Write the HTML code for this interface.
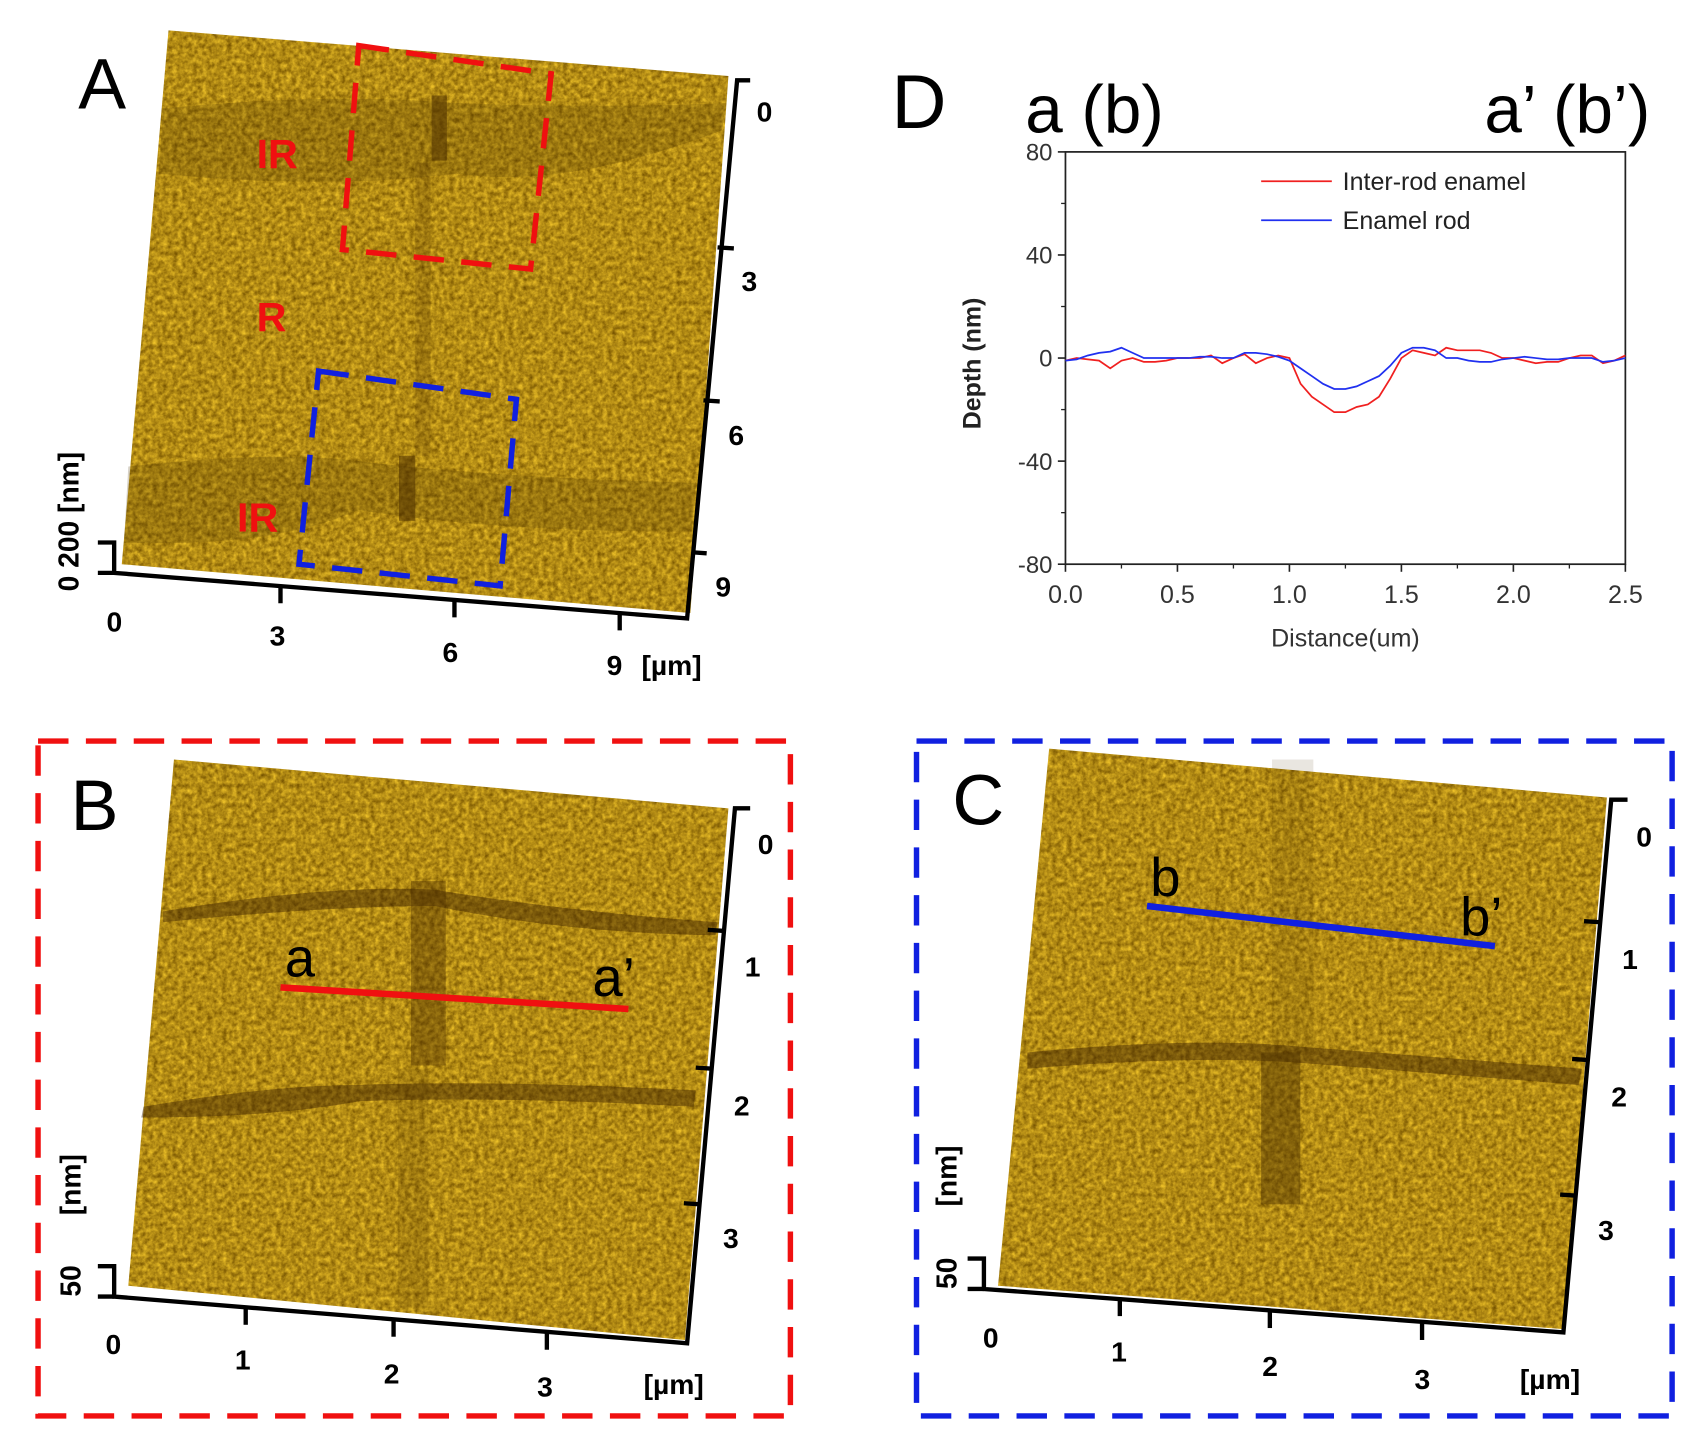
<!DOCTYPE html>
<html><head><meta charset="utf-8"><style>
html,body{margin:0;padding:0;background:#fff;}
svg{display:block;font-family:"Liberation Sans",Arial,sans-serif;}
</style></head><body>
<svg width="1696" height="1443" viewBox="0 0 1696 1443">
<defs>
<filter id="grain" x="0" y="0" width="100%" height="100%" color-interpolation-filters="sRGB">
<feTurbulence type="fractalNoise" baseFrequency="0.22" numOctaves="3" seed="4" result="n"/>
<feColorMatrix in="n" type="matrix" values="0.6 0 0 0 0.40  0.55 0 0 0 0.27  0.2 0 0 0 -0.02  0 0 0 0 1" result="c"/>
<feComposite in="c" in2="SourceGraphic" operator="in"/>
</filter>
</defs>
<g transform="scale(1.0872,1.085)">
<!-- Panel A -->
<g>
<polygon points="155,28 670,70 635,565 112,520" fill="#b8901c" filter="url(#grain)"/>
<path d="M150,100 Q300,85 420,95 Q550,100 668,95 L664,120 Q520,175 420,160 Q300,175 146,160Z" fill="#4a3000" opacity="0.22"/>
<path d="M118,430 Q250,415 330,425 Q450,440 640,445 L636,490 Q450,490 330,470 Q250,505 114,500Z" fill="#4a3000" opacity="0.22"/>
<rect x="397" y="88" width="14" height="60" fill="#4a2e00" opacity="0.55"/>
<rect x="382" y="150" width="14" height="270" fill="#4a2e00" opacity="0.2"/>
<rect x="367" y="420" width="15" height="60" fill="#4a2e00" opacity="0.55"/>
<text x="72" y="100" font-size="66" fill="#000">A</text>
<text x="236" y="155" font-size="38" font-weight="bold" fill="#f01010">IR</text>
<text x="236" y="305" font-size="38" font-weight="bold" fill="#f01010">R</text>
<text x="218" y="490" font-size="38" font-weight="bold" fill="#f01010">IR</text>
<polygon points="330,42 507,68 488,248 315,230" fill="none" stroke="#f01010" stroke-width="5" stroke-dasharray="28,16"/>
<polygon points="293,342 475,368 460,540 275,520" fill="none" stroke="#1020e0" stroke-width="5" stroke-dasharray="28,16"/>
<g stroke="#000" stroke-width="4" fill="none">
<polyline points="690,74 678,74 632,570 105,528 105,500 90,500"/>
<line x1="90" y1="528" x2="105" y2="528"/>
<line x1="675" y1="229" x2="660" y2="228"/><line x1="662" y1="370" x2="647" y2="369"/><line x1="650" y1="510" x2="636" y2="509"/>
<line x1="258" y1="540" x2="258" y2="556"/><line x1="418" y1="553" x2="418" y2="569"/><line x1="570" y1="565" x2="570" y2="581"/>
</g>
<g font-size="26" font-weight="bold" fill="#000">
<text x="696" y="112">0</text><text x="682" y="268">3</text><text x="670" y="410">6</text><text x="658" y="550">9</text>
<text x="98" y="582">0</text><text x="248" y="595">3</text><text x="407" y="610">6</text><text x="558" y="622">9</text>
<text x="590" y="622">[µm]</text>
<text transform="translate(72,545) rotate(-90)">0  200  [nm]</text>
</g>
</g>
<!-- Panel B -->
<g>
<rect x="35" y="683" width="692" height="622" fill="none" stroke="#f01010" stroke-width="5" stroke-dasharray="28,16"/>
<polygon points="160,700 670,745 630,1235 118,1185" fill="#b8901c" filter="url(#grain)"/>
<path d="M150,840 Q300,815 400,820 Q520,840 660,850 L658,862 Q520,860 400,835 Q300,835 150,850Z" fill="#3a2000" opacity="0.45"/>
<path d="M132,1020 Q250,1000 330,1000 Q450,995 640,1005 L638,1020 Q450,1010 330,1015 Q250,1030 130,1030Z" fill="#3a2000" opacity="0.45"/>
<rect x="378" y="812" width="32" height="170" fill="#4a2e00" opacity="0.4"/>
<rect x="366" y="985" width="28" height="220" fill="#4a2e00" opacity="0.15"/>
<text x="65" y="765" font-size="66" fill="#000">B</text>
<line x1="258" y1="910" x2="578" y2="930" stroke="#f01010" stroke-width="6"/>
<text x="262" y="900" font-size="50" fill="#000">a</text>
<text x="545" y="918" font-size="50" fill="#000">a’</text>
<g stroke="#000" stroke-width="4" fill="none">
<polyline points="690,745 676,745 632,1238 105,1195 105,1167 90,1167"/>
<line x1="90" y1="1195" x2="105" y2="1195"/>
<line x1="666" y1="858" x2="651" y2="857"/><line x1="655" y1="985" x2="640" y2="984"/><line x1="644" y1="1110" x2="629" y2="1109"/>
<line x1="226" y1="1205" x2="226" y2="1221"/><line x1="362" y1="1216" x2="362" y2="1232"/><line x1="503" y1="1228" x2="503" y2="1244"/>
</g>
<g font-size="26" font-weight="bold" fill="#000">
<text x="697" y="787">0</text><text x="685" y="900">1</text><text x="675" y="1028">2</text><text x="665" y="1150">3</text>
<text x="97" y="1248">0</text><text x="216" y="1262">1</text><text x="353" y="1275">2</text><text x="494" y="1287">3</text>
<text x="592" y="1285">[µm]</text>
<text transform="translate(74,1195) rotate(-90)">50</text>
<text transform="translate(74,1120) rotate(-90)">[nm]</text>
</g>
</g>
<!-- Panel C -->
<g>
<rect x="843" y="683" width="695" height="622" fill="none" stroke="#1020e0" stroke-width="5" stroke-dasharray="28,16"/>
<polygon points="965,690 1478,735 1438,1225 918,1185" fill="#b8901c" filter="url(#grain)"/>
<path d="M945,970 Q1100,955 1200,965 Q1330,975 1455,985 L1452,1000 Q1330,990 1200,980 Q1100,972 945,985Z" fill="#3a2000" opacity="0.45"/>
<rect x="1160" y="970" width="36" height="140" fill="#4a2e00" opacity="0.45"/>
<rect x="1170" y="700" width="38" height="270" fill="#4a2e00" opacity="0.12"/>
<text x="876" y="760" font-size="66" fill="#000">C</text>
<line x1="1055" y1="835" x2="1375" y2="872" stroke="#1020e0" stroke-width="6"/>
<text x="1058" y="826" font-size="50" fill="#000">b</text>
<text x="1343" y="862" font-size="50" fill="#000">b’</text>
<g stroke="#000" stroke-width="4" fill="none">
<polyline points="1497,737 1482,737 1438,1228 905,1188 905,1160 890,1160"/>
<line x1="890" y1="1188" x2="905" y2="1188"/>
<line x1="1472" y1="850" x2="1457" y2="849"/><line x1="1461" y1="977" x2="1446" y2="976"/><line x1="1450" y1="1102" x2="1435" y2="1101"/>
<line x1="1030" y1="1197" x2="1030" y2="1213"/><line x1="1168" y1="1208" x2="1168" y2="1224"/><line x1="1308" y1="1219" x2="1308" y2="1235"/>
</g>
<g font-size="26" font-weight="bold" fill="#000">
<text x="1505" y="780">0</text><text x="1492" y="893">1</text><text x="1482" y="1020">2</text><text x="1470" y="1143">3</text>
<text x="904" y="1242">0</text><text x="1022" y="1255">1</text><text x="1161" y="1268">2</text><text x="1301" y="1280">3</text>
<text x="1398" y="1280">[µm]</text>
<text transform="translate(880,1188) rotate(-90)">50</text>
<text transform="translate(880,1112) rotate(-90)">[nm]</text>
</g>
</g>
<!-- Panel D chart -->
<g id="chartD">
<text x="820" y="118" font-size="70" fill="#000">D</text>
<text x="943" y="122" font-size="62" fill="#000">a (b)</text>
<text x="1518" y="122" font-size="62" fill="#000" text-anchor="end">a’ (b’)</text>
</g>
</g>
</svg>
<script>
const xValues=[0,0.05,0.1,0.15,0.2,0.25,0.3,0.35,0.4,0.45,0.5,0.55,0.6,0.65,0.7,0.75,0.8,0.85,0.9,0.95,1.0,1.05,1.1,1.15,1.2,1.25,1.3,1.35,1.4,1.45,1.5,1.55,1.6,1.65,1.7,1.75,1.8,1.85,1.9,1.95,2.0,2.05,2.1,2.15,2.2,2.25,2.3,2.35,2.4,2.45,2.5];
const interRod=[-1,0,-0.5,-1,-4,-1,0,-1.5,-1.5,-1,0,0,0,1,-2,0,1.5,-2,0,1,0,-10,-15,-18,-21,-21,-19,-18,-15,-8,0,3,2,1,4,3,3,3,2,0,0,-1,-2,-1.5,-1.5,0,1,1,-2,-1,1];
const enamelRod=[-1,-0.5,1,2,2.5,4,2,0,0,0,0,0,0.5,0.5,0,0,2,2,1.5,0.5,-1,-4,-7,-10,-12,-12,-11,-9,-7,-3,2,4,4,3,0,0,-1,-1.5,-1.5,-0.5,0,0.5,0,-0.5,-0.5,0,0,0,-1.5,-1,0];
const xTicks=[0,0.5,1.0,1.5,2.0,2.5];
const xTickLabels=["0.0","0.5","1.0","1.5","2.0","2.5"];
const yTicks=[80,40,0,-40,-80];
const yTickLabels=["80","40","0","-40","-80"];
const seriesNames=["Inter-rod enamel","Enamel rod"];
const NS="http://www.w3.org/2000/svg";
const g=document.getElementById('chartD');
const L=980,R=1495,T=140,B=520;
const sx=v=>L+(v-0)/2.5*(R-L);
const sy=v=>T+(80-v)/160*(B-T);
function mk(t,a,p){const e=document.createElementNS(NS,t);for(const k in a)e.setAttribute(k,a[k]);(p||g).appendChild(e);return e;}
const frame=mk('rect',{x:L,y:T,width:R-L,height:B-T,fill:'none',stroke:'#222','stroke-width':1.6});


yTicks.forEach((v,i)=>{
  mk('line',{x1:L-7,x2:L,y1:sy(v),y2:sy(v),stroke:'#222','stroke-width':1.5});
  const t=mk('text',{x:L-12,y:sy(v)+8,'font-size':22,fill:'#333','text-anchor':'end'});t.textContent=yTickLabels[i];
  
  
  if(i<yTicks.length-1){const m=(v+yTicks[i+1])/2;mk('line',{x1:L-4,x2:L,y1:sy(m),y2:sy(m),stroke:'#222','stroke-width':1.2});}
});
xTicks.forEach((v,i)=>{
  mk('line',{x1:sx(v),x2:sx(v),y1:B,y2:B+7,stroke:'#222','stroke-width':1.5});
  const t=mk('text',{x:sx(v),y:B+36,'font-size':23,fill:'#333','text-anchor':'middle'});t.textContent=xTickLabels[i];
  
  
  if(i<xTicks.length-1){const m=(v+xTicks[i+1])/2;mk('line',{x1:sx(m),x2:sx(m),y1:B,y2:B+4,stroke:'#222','stroke-width':1.2});}
});
const xl=mk('text',{x:(L+R)/2,y:B+76,'font-size':23,fill:'#333','text-anchor':'middle'});xl.textContent='Distance(um)';


const yl=mk('text',{transform:`translate(902,${(T+B)/2+5}) rotate(-90)`,'font-size':23,fill:'#222','font-weight':'bold','text-anchor':'middle'});yl.textContent='Depth (nm)';


function line(vals,col,name){
  const p=mk('polyline',{points:vals.map((v,i)=>sx(xValues[i])+','+sy(v)).join(' '),fill:'none',stroke:col,'stroke-width':1.6});
  
  
}
line(interRod,'#f02020','series-inter-rod');
line(enamelRod,'#2030f0','series-enamel-rod');
[['#f02020',167],['#2030f0',203]].forEach((c,i)=>{
  mk('line',{x1:1160,x2:1225,y1:c[1],y2:c[1],stroke:c[0],'stroke-width':1.6});
  const t=mk('text',{x:1235,y:c[1]+8,'font-size':23,fill:'#222'});t.textContent=seriesNames[i];
  
  
});
</script>
</body></html>
